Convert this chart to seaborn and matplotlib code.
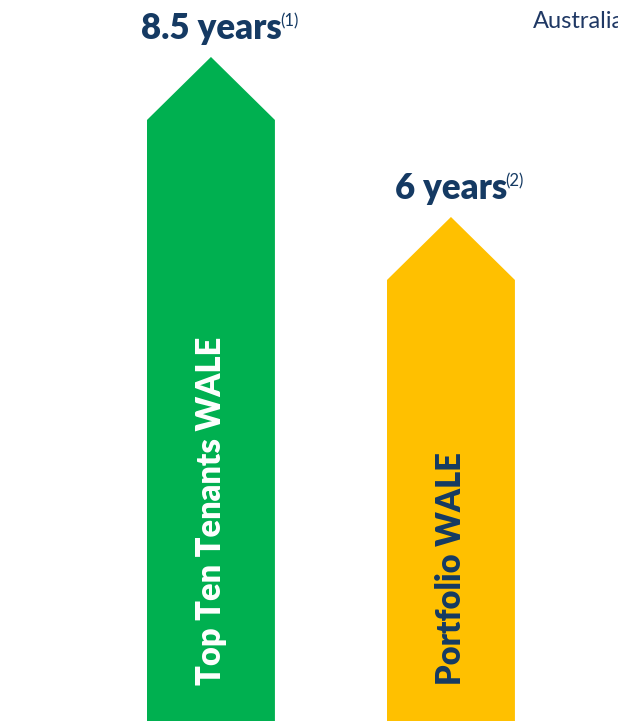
import matplotlib
matplotlib.use("Agg")
import matplotlib.pyplot as plt
import seaborn as sns
import pandas as pd
from matplotlib.patches import Polygon

# ---------------------------
# data
# ---------------------------
categories = ["Top Ten Tenants WALE", "Portfolio WALE"]
wale_years = [8.5, 6.0]
value_labels = ["8.5 years", "6 years"]
footnotes = ["(1)", "(2)"]
bar_colors = ["#00B050", "#FFC000"]
name_colors = ["white", "#153A63"]

NAVY = "#153A63"

df = pd.DataFrame({"category": categories, "wale": wale_years})

sns.set_theme(style="white")
plt.rcParams["font.family"] = ["Lato", "DejaVu Sans"]

fig = plt.figure(figsize=(6.18, 7.21), dpi=100)
ax = fig.add_axes([0, 0, 1, 1])

sns.barplot(data=df, x="category", y="wale", hue="category",
            palette=bar_colors, saturation=1, width=0.533,
            errorbar=None, legend=False, ax=ax)

ax.set_xlim(-0.879, 1.696)
ax.set_ylim(-1.875, 9.39)
ax.set_axis_off()

# ---------------------------
# turn bars into arrows
# ---------------------------
px_x = 618 / (1.696 + 0.879)
px_y = 721 / (9.39 + 1.875)
ybot = ax.get_ylim()[0]

bars = sorted(ax.patches, key=lambda p: p.get_x())
for i, p in enumerate(bars):
    x0 = p.get_x()
    w = p.get_width()
    top = p.get_y() + p.get_height()
    xc = x0 + w / 2
    tip = (w / 2) * px_x / px_y * 0.985
    pts = [(x0, ybot), (x0, top - tip), (xc, top), (x0 + w, top - tip), (x0 + w, ybot)]
    arrow = Polygon(pts, closed=True, facecolor=p.get_facecolor(), edgecolor="none")
    p.remove()
    ax.add_patch(arrow)

    t = ax.text(xc, top + 0.28, value_labels[i], ha="center", va="baseline",
                fontsize=25, fontweight="heavy", color=NAVY)
    ax.annotate(footnotes[i], xy=(1, 1), xycoords=t, xytext=(-1, -1),
                textcoords="offset points", ha="left", va="top",
                fontsize=12, color=NAVY)

    ax.text(xc, -1.31, categories[i], rotation=90, ha="center", va="bottom",
            fontsize=23.5, fontweight="heavy", color=name_colors[i])

ax.text(533 / 618, 1 - 28 / 721, "Australia", transform=ax.transAxes,
        ha="left", va="baseline", fontsize=17, color="#1F3864")

fig.savefig("out.png", dpi=100)
